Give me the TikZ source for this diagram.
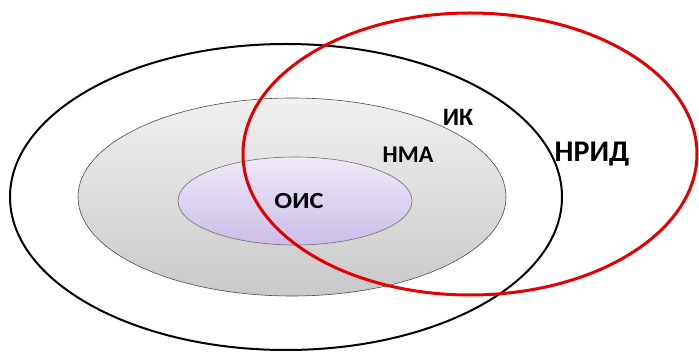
\documentclass[tikz,border=0pt]{standalone}
\usepackage{fontspec}
\setmainfont{Carlito}
\begin{document}
\begin{tikzpicture}[x=1pt,y=-1pt,
  lbl/.style={font=\bfseries, inner sep=0pt, text=black}]
\useasboundingbox (0,0) rectangle (699,352);
\fill[white] (0,0) rectangle (699,352);
% outer black ellipse
\draw[black, line width=2pt] (286,197) ellipse [x radius=276, y radius=153];
% gray ellipse
\shade[top color=gray!12, bottom color=gray!42] (292,197) ellipse [x radius=214, y radius=99];
\draw[black!70, line width=0.6pt] (292,197) ellipse [x radius=214, y radius=99];
% purple ellipse
\shade[top color={rgb,255:red,238;green,233;blue,248}, bottom color={rgb,255:red,204;green,190;blue,234}] (295,201) ellipse [x radius=117, y radius=44];
\draw[black!55, line width=0.6pt] (295,201) ellipse [x radius=117, y radius=44];
% red ellipse
\draw[red!90!black, line width=3pt] (470,154) ellipse [x radius=227, y radius=141];
% labels
\node[lbl, font=\bfseries\fontsize{25}{25}\selectfont] (ik) at (458,117) {ИК};
\node[lbl, font=\bfseries\fontsize{24}{24}\selectfont] (nma) at (408,155) {НМА};
\node[lbl, font=\bfseries\fontsize{23}{23}\selectfont, xscale=1.15] (ois) at (299,201) {ОИС};
\node[lbl, font=\bfseries\fontsize{30}{30}\selectfont] (nrid) at (592,154) {НРИД};
\end{tikzpicture}
\end{document}
